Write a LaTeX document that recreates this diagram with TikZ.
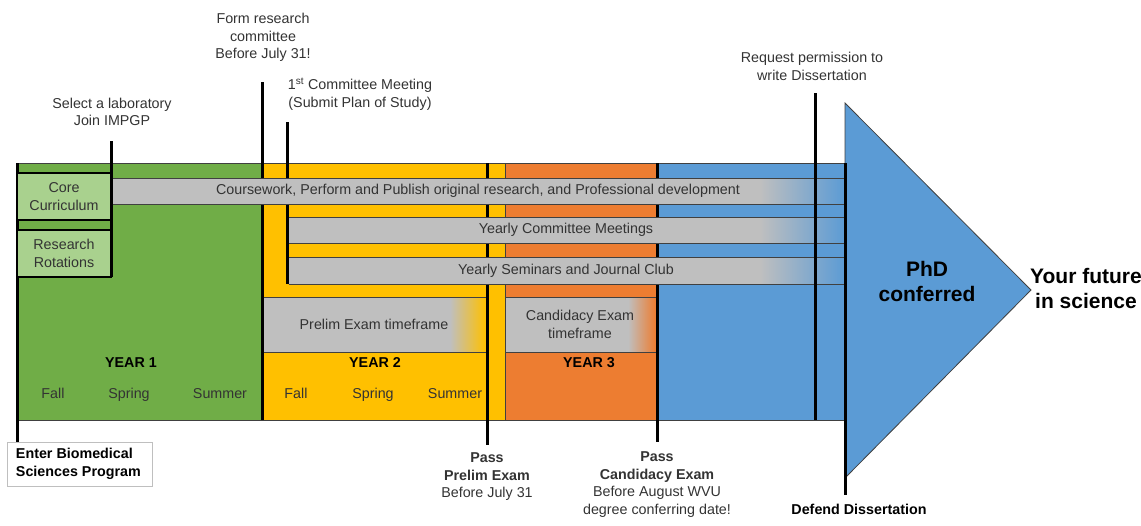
\documentclass[tikz,border=0pt]{standalone}
\usepackage{fontspec}
\setmainfont{Liberation Sans}
\definecolor{yrgreen}{HTML}{70AD47}
\definecolor{yrlight}{HTML}{A9D18E}
\definecolor{yryellow}{HTML}{FFC000}
\definecolor{yrorange}{HTML}{ED7D31}
\definecolor{yrblue}{HTML}{5B9BD5}
\definecolor{barfill}{HTML}{BFBFBF}
\definecolor{edge}{HTML}{404040}

\begin{document}
\begin{tikzpicture}[x=1pt,y=-1pt,
    every node/.style={inner sep=0pt},
    lbl/.style={align=center, text=black!80, font=\fontsize{14.3}{17.5}\selectfont},
    lblb/.style={align=center, text=black, font=\fontsize{14.3}{17.5}\selectfont\bfseries},
    big/.style={align=center, text=black, font=\fontsize{21}{25}\selectfont\bfseries},
    season/.style={lbl, anchor=base},
    band/.style={draw=edge, line width=0.8pt},
    bar/.style={draw=edge, line width=0.8pt},
    milestone/.style={line width=3pt, black}]
  \def\bandtop{163}
  \def\bandbot{420}
  \def\fadeat{760}
  \useasboundingbox (0,0) rectangle (1141,525);
  % year bands
  \fill[yrgreen] (17,\bandtop) rectangle (262,\bandbot);
  \fill[yryellow] (262,\bandtop) rectangle (505,\bandbot);
  \fill[yrorange] (505,\bandtop) rectangle (657,\bandbot);
  \fill[yrblue] (657,\bandtop) rectangle (845,\bandbot);
  \draw[band] (17,\bandtop) rectangle (845,\bandbot);
  \draw[band] (505,\bandtop) -- (505,\bandbot);
  \draw[band, fill=yrblue] (845,103) -- (1031,290) -- (845,478) -- cycle;
  % milestones under the bars
  \draw[milestone] (17,\bandtop) -- (17,442);
  \draw[milestone] (111,141) -- (111,277);
  \draw[milestone] (262,82) -- (262,\bandbot);
  \draw[milestone] (287,122) -- (287,284);
  \draw[milestone] (487,\bandtop) -- (487,445);
  \draw[milestone] (657,\bandtop) -- (657,442);
  % year 1 boxes
  \draw[fill=yrlight, line width=1.2pt] (17,173) rectangle (111,220);
  \draw[fill=yrlight, line width=1.2pt] (17,230) rectangle (111,277);
  % long bars
  \fill[barfill] (112.5,178) rectangle (\fadeat+1,204);
  \shade[left color=barfill, right color=yrblue] (\fadeat,178) rectangle (845,204);
  \draw[bar] (112.5,178) -- (845,178) (112.5,204) -- (845,204);
  \fill[barfill] (288.5,217) rectangle (\fadeat+1,243);
  \shade[left color=barfill, right color=yrblue] (\fadeat,217) rectangle (845,243);
  \draw[bar] (288.5,217) -- (845,217) (288.5,243) -- (845,243);
  \fill[barfill] (288.5,257) rectangle (\fadeat+1,284);
  \shade[left color=barfill, right color=yrblue] (\fadeat,257) rectangle (845,284);
  \draw[bar] (288.5,257) -- (845,257) (288.5,284) -- (845,284);
  % exam timeframes
  \fill[barfill] (263.5,297) rectangle (451,352);
  \shade[left color=barfill, right color=yryellow] (450,297) rectangle (485.5,352);
  \draw[bar] (263.5,297) -- (485.5,297) (263.5,352) -- (485.5,352);
  \fill[barfill] (505.5,297) rectangle (629,352);
  \shade[left color=barfill, right color=yrorange] (628,297) rectangle (655.5,352);
  \draw[bar] (505.5,297) -- (655.5,297) (505.5,352) -- (655.5,352);
  % milestones over the bars
  \draw[milestone] (815,93) -- (815,\bandbot);
  \draw[milestone] (845,\bandtop) -- (845,495);

  \node[lbl] (lab) at (112,112) {Select a laboratory\\Join IMPGP};
  \node[lbl] (committee) at (263,37.5) {Form research\\committee\\Before July 31!};
  \node[lbl] (firstmeet) at (360,94) {1\textsuperscript{st} Committee Meeting\\(Submit Plan of Study)};
  \node[lbl] (permission) at (812,66.5) {Request permission to\\write Dissertation};

  \node[lbl] (core) at (64,196.5) {Core\\Curriculum};
  \node[lbl] (rotations) at (64,253.5) {Research\\Rotations};
  \node[lbl] (coursework) at (478,191) {Coursework, Perform and Publish original research, and Professional development};
  \node[lbl] (meetings) at (566,230) {Yearly Committee Meetings};
  \node[lbl] (seminars) at (566,270.5) {Yearly Seminars and Journal Club};
  \node[lbl] (prelimbar) at (374,324.5) {Prelim Exam timeframe};
  \node[lbl] (candbar) at (580,324.5) {Candidacy Exam\\timeframe};

  \node[lblb] (yearone) at (131,363) {YEAR 1};
  \node[lblb] (yeartwo) at (375,363) {YEAR 2};
  \node[lblb] (yearthree) at (589,363) {YEAR 3};
  \node[season] (fallone) at (53,398) {Fall};
  \node[season] (springone) at (129,398) {Spring};
  \node[season] (summerone) at (220,398) {Summer};
  \node[season] (falltwo) at (296,398) {Fall};
  \node[season] (springtwo) at (373,398) {Spring};
  \node[season] (summertwo) at (455,398) {Summer};

  \node[big] (phd) at (927,281) {PhD\\conferred};
  \node[big] (future) at (1086,288) {Your future\\in science};

  \node[lblb, draw=barfill, line width=0.8pt, fill=white, align=flush left, text width=128pt,
    inner xsep=8.5pt, minimum height=44pt] (enter) at (80,464) {Enter Biomedical\\Sciences Program};
  \node[lbl] (prelimpass) at (487,477) {\textbf{Pass}\\\textbf{Prelim Exam}\\Before July 31};
  \node[lbl] (candpass) at (657,484.5) {\textbf{Pass}\\\textbf{Candidacy Exam}\\Before August WVU\\degree conferring date!};
  \node[lblb] (defend) at (859,509) {Defend Dissertation};
\end{tikzpicture}
\end{document}
